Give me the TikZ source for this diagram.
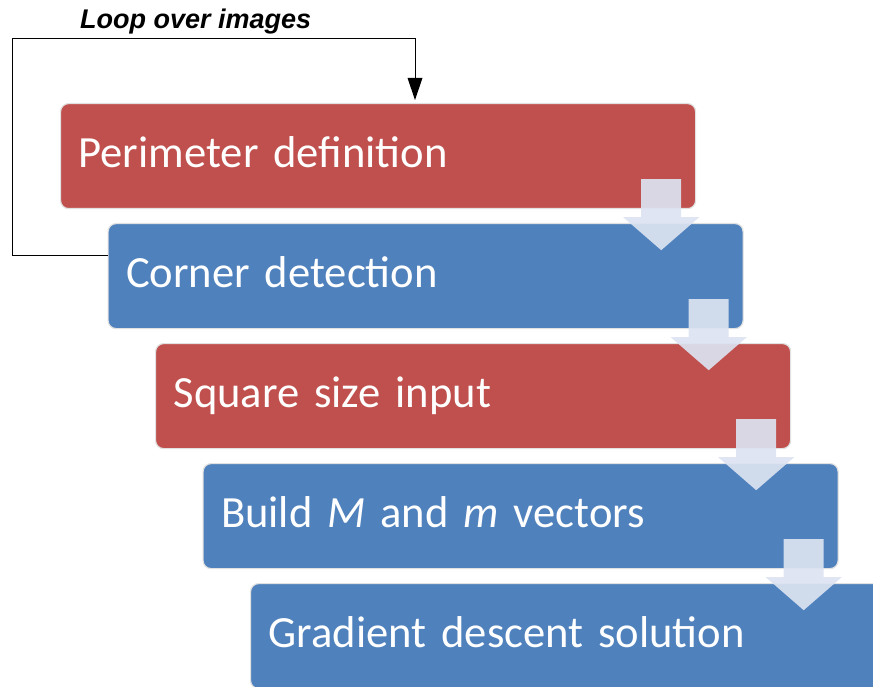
\documentclass[tikz,border=0pt]{standalone}
\usepackage{fontspec}
\setmainfont{Carlito}
\newfontfamily\labelfont{Liberation Sans}
\usetikzlibrary{calc}
\definecolor{boxred}{RGB}{192,80,77}
\definecolor{boxblue}{RGB}{79,129,189}
\definecolor{boxrim}{RGB}{225,225,225}
\definecolor{flowarrow}{RGB}{220,227,241}

\begin{document}
\begin{tikzpicture}[x=1pt,y=-1pt,
  stepbox/.style={draw=boxrim, line width=1.2pt, rounded corners=8pt,
    minimum width=635pt, minimum height=105pt, anchor=north west,
    inner xsep=18pt, inner ysep=0pt, text width=599pt, align=left,
    text height=34pt, text depth=11pt, text=white,
    font=\fontsize{44.6}{50}\selectfont},
  redstep/.style={stepbox, fill=boxred},
  bluestep/.style={stepbox, fill=boxblue},
  flow/.style={fill=flowarrow, fill opacity=0.92, draw=none},
  loopline/.style={draw=black, line width=0.8pt}
]
% page frame
\useasboundingbox (0,0) rectangle (873,687);
\begin{scope}
\clip (0,0) rectangle (873,687);

% process steps, each one shifted right and down
\node[redstep]  (s1) at (60,103)    {Perimeter definition};
\node[bluestep] (s2) at (107.5,223) {Corner detection};
\node[redstep]  (s3) at (155,343)   {Square size input};
\node[bluestep] (s4) at (202.5,463) {Build \textit{M} and \textit{m} vectors};
\node[bluestep] (s5) at (250,583)   {Gradient descent solution};

% block arrows between consecutive steps
\foreach \a/\b in {s1/s2,s2/s3,s3/s4,s4/s5}{
  \path let \p1 = (\a.south east) in
    coordinate (c) at (\x1-35,\y1);
  \fill[flow] ($(c)+(-20,-30)$) -- ($(c)+(20,-30)$) -- ($(c)+(20,8)$)
    -- ($(c)+(38,8)$) -- ($(c)+(0,41)$) -- ($(c)+(-38,8)$)
    -- ($(c)+(-20,8)$) -- cycle;
}
\end{scope}

% loop back from the second step to the first
\coordinate (lt) at (12,38);
\coordinate (tip) at (415,100);
\draw[loopline] (s2.west |- 0,255) -- (12,255) -- (lt) -- (415,38)
  -- ($(tip)+(0,-21)$);
\fill (tip) -- ++(-7.5,-22) -- ++(15,0) -- cycle;
\node[font=\labelfont\bfseries\itshape\fontsize{27}{30}\selectfont,
  anchor=base west, inner sep=0pt] (looplabel) at (80,29) {Loop over images};
\end{tikzpicture}
\end{document}
